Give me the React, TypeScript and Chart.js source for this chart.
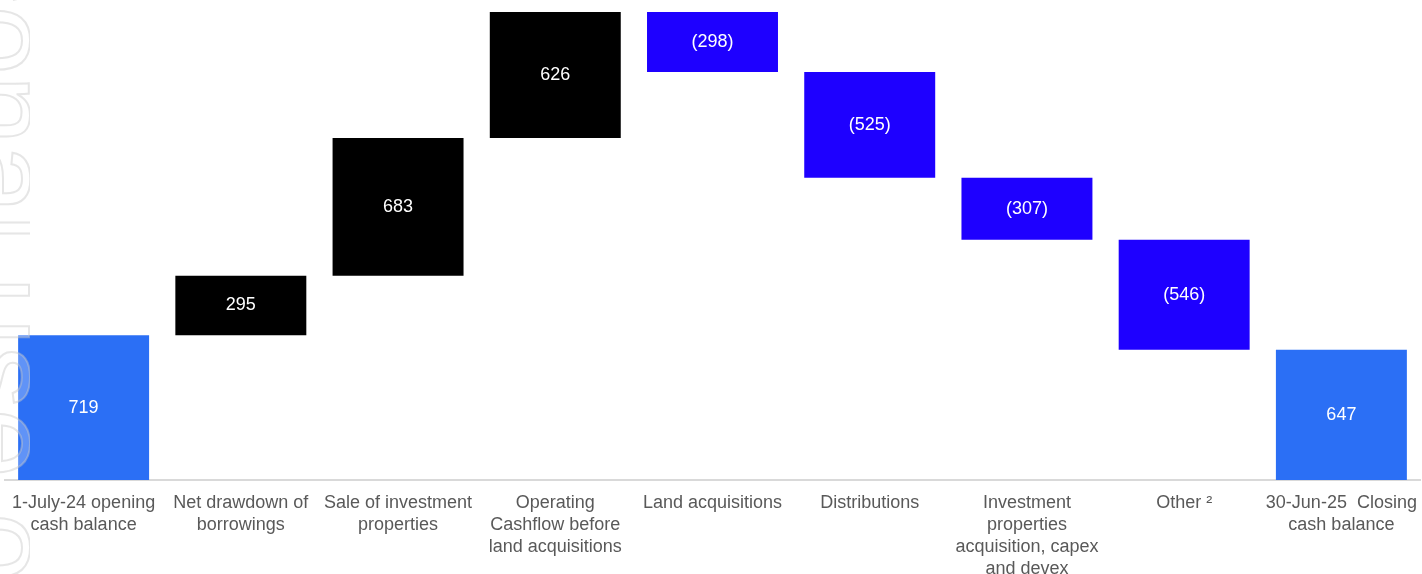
import React, { useEffect, useRef } from "react";
import { Chart, registerables } from "chart.js";

Chart.register(...registerables);

const categories: string[][] = [
  ["1-July-24 opening", "cash balance"],
  ["Net drawdown of", "borrowings"],
  ["Sale of investment", "properties"],
  ["Operating", "Cashflow before", "land acquisitions"],
  ["Land acquisitions"],
  ["Distributions"],
  ["Investment", "properties", "acquisition, capex", "and devex"],
  ["Other \u00B2"],
  ["30-Jun-25  Closing", "cash balance"],
];
const changes = [719, 295, 683, 626, -298, -525, -307, -546, 647];
const kinds = ["total", "up", "up", "up", "down", "down", "down", "down", "total"];
const valueLabels = ["719", "295", "683", "626", "(298)", "(525)", "(307)", "(546)", "647"];
const yMax = 2323;

const kindColors: Record<string, string> = {
  total: "#2B6FF5",
  up: "#000000",
  down: "#1E00FF",
};

const FONT = "Arial, 'Liberation Sans', sans-serif";

export default function App() {
  const ref = useRef<HTMLCanvasElement | null>(null);

  useEffect(() => {
    document.body.style.margin = "0";
    const canvas = ref.current;
    if (!canvas) return;

    let running = 0;
    const ranges: number[][] = changes.map((v, i) => {
      if (kinds[i] === "total") {
        running = v;
        return [0, v];
      }
      const start = running;
      running += v;
      return [start, running];
    });

    const valueLabelPlugin = {
      id: "valueLabels",
      afterDatasetsDraw(chart: any) {
        const ctx = chart.ctx;
        const meta = chart.getDatasetMeta(0);
        ctx.save();
        ctx.font = "18px " + FONT;
        ctx.fillStyle = "#ffffff";
        ctx.textAlign = "center";
        ctx.textBaseline = "middle";
        meta.data.forEach((el: any, i: number) => {
          const cy = (el.y + el.base) / 2;
          ctx.fillText(valueLabels[i], el.x, cy);
        });
        ctx.restore();
      },
    };

    const watermarkPlugin = {
      id: "watermark",
      afterDraw(chart: any) {
        const ctx = chart.ctx;
        ctx.save();
        ctx.beginPath();
        ctx.rect(0, 0, 30, 574);
        ctx.clip();
        ctx.translate(-37, -460);
        ctx.rotate(Math.PI / 2);
        ctx.font = "125px " + FONT;
        ctx.textAlign = "left";
        ctx.textBaseline = "alphabetic";
        ctx.fillStyle = "rgba(255,255,255,0.25)";
        ctx.fillText("For personal use only", 0, 0);
        ctx.lineWidth = 2;
        ctx.strokeStyle = "rgba(200,200,200,0.45)";
        ctx.strokeText("For personal use only", 0, 0);
        ctx.restore();
      },
    };

    const chart = new Chart(canvas, {
      type: "bar",
      data: {
        labels: categories,
        datasets: [
          {
            data: ranges as any,
            backgroundColor: kinds.map((k) => kindColors[k]),
            borderWidth: 0,
            categoryPercentage: 1,
            barPercentage: 0.833,
          },
        ],
      },
      options: {
        responsive: false,
        animation: false,
        layout: { padding: { left: 5, right: 2, top: 12, bottom: 0 } },
        plugins: {
          legend: { display: false },
          tooltip: { enabled: false },
        },
        scales: {
          x: {
            grid: { display: false, drawTicks: false },
            border: { display: true, color: "#d9d9d9", width: 2 },
            ticks: {
              autoSkip: false,
              maxRotation: 0,
              minRotation: 0,
              padding: 12,
              color: "#595959",
              font: { family: FONT, size: 18, lineHeight: 1.222 },
            },
            afterFit(scale: any) {
              scale.height = 94;
              scale.paddingLeft = 0;
              scale.paddingRight = 0;
            },
          },
          y: {
            display: false,
            min: 0,
            max: yMax,
          },
        },
      },
      plugins: [valueLabelPlugin, watermarkPlugin],
    });

    return () => chart.destroy();
  }, []);

  return (
    <div style={{ width: 1422, height: 574 }}>
      <canvas ref={ref} width={1422} height={574} />
    </div>
  );
}
